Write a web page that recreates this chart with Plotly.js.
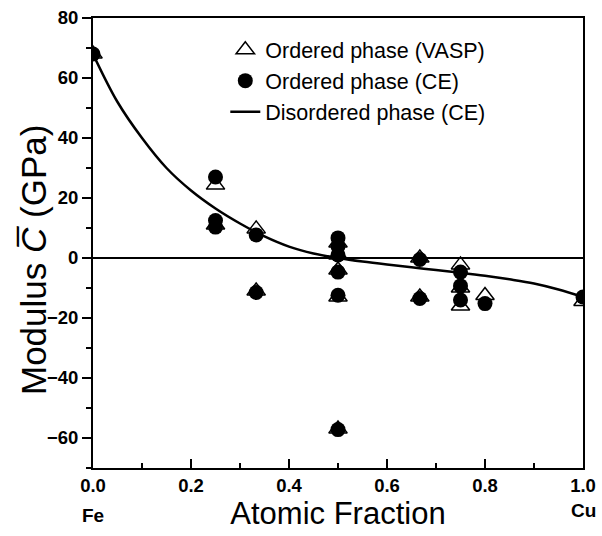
<!DOCTYPE html>
<html>
<head>
<meta charset="utf-8">
<script src="https://cdn.plot.ly/plotly-3.0.1.min.js"></script>
<style>html,body{margin:0;padding:0;background:#fff;}#chart{width:602px;height:536px;}</style>
</head>
<body>
<div id="chart"></div>
<script>
// Ordered phase (VASP)
const vaspX = [0.0, 0.25, 0.25, 0.333, 0.333, 0.5, 0.5, 0.5, 0.5, 0.5, 0.667, 0.667, 0.75, 0.75, 0.75, 0.8, 1.0];
const vaspY = [68, 24.3, 11, 9.7, -11, 5, 1, -4, -13, -57, 0, -13, -2.3, -10, -16, -12.5, -14.5];
// Ordered phase (CE)
const ceX = [0.0, 0.25, 0.25, 0.25, 0.333, 0.333, 0.5, 0.5, 0.5, 0.5, 0.5, 0.5, 0.667, 0.667, 0.75, 0.75, 0.75, 0.8, 1.0];
const ceY = [68, 27, 12.5, 10.3, 7.7, -11.5, 6.7, 3.8, 1, -4.7, -12.4, -57.2, -0.5, -13.5, -4.7, -9.3, -14, -15.2, -13];
// Disordered phase (CE) curve
const disX = [0.0, 0.05, 0.10, 0.15, 0.20, 0.25, 0.30, 0.35, 0.40, 0.45, 0.50, 0.55, 0.60, 0.65, 0.70, 0.75, 0.80, 0.85, 0.90, 0.95, 1.0];
const disY = [68, 52, 40, 30, 22.5, 16.5, 11.5, 7.2, 3.8, 1.5, 0, -1.2, -2.2, -3.1, -4.0, -4.9, -5.9, -7.1, -8.5, -10.5, -13];

const xTickVals = [0, 0.2, 0.4, 0.6, 0.8, 1.0];
const xTickText = ['0.0', '0.2', '0.4', '0.6', '0.8', '1.0'];
const yTickVals = [-60, -40, -20, 0, 20, 40, 60, 80];

const FONT = 'Liberation Sans, Arial, Helvetica, sans-serif';

const traces = [
  {x: vaspX, y: vaspY, type: 'scatter', mode: 'markers', name: 'Ordered phase (VASP)',
   marker: {symbol: 'triangle-up-open', size: 16, color: 'black', line: {width: 1.5, color: 'black'}}},
  {x: ceX, y: ceY, type: 'scatter', mode: 'markers', name: 'Ordered phase (CE)',
   marker: {symbol: 'circle', size: 15, color: 'black'}},
  {x: disX, y: disY, type: 'scatter', mode: 'lines', name: 'Disordered phase (CE)',
   line: {color: 'black', width: 2.5, shape: 'spline'}}
];

const layout = {
  width: 602, height: 536,
  margin: {l: 93, r: 19, t: 18, b: 68},
  paper_bgcolor: 'white', plot_bgcolor: 'white',
  font: {family: FONT, color: 'black'},
  showlegend: true,
  legend: {x: 0.27, y: 0.975, xanchor: 'left', yanchor: 'top', bgcolor: 'rgba(0,0,0,0)',
           font: {family: FONT, size: 21.5, color: 'black'}, itemwidth: 30},
  xaxis: {
    range: [0, 1.0], autorange: false,
    tickvals: xTickVals, ticktext: xTickText,
    ticks: 'inside', ticklen: 9, tickwidth: 2, tickcolor: 'black',
    minor: {dtick: 0.1, ticks: 'inside', ticklen: 5, tickwidth: 2, tickcolor: 'black'},
    showline: true, linewidth: 2, linecolor: 'black', mirror: true,
    showgrid: false, zeroline: false,
    tickfont: {family: FONT, size: 18.5, color: 'black', weight: 'bold'},
    title: {text: 'Atomic Fraction', font: {family: FONT, size: 31, color: 'black'}, standoff: 6}
  },
  yaxis: {
    range: [-70, 80], autorange: false,
    tickvals: yTickVals,
    ticks: 'outside', ticklen: 9, tickwidth: 2, tickcolor: 'black',
    minor: {dtick: 10, ticks: 'outside', ticklen: 5, tickwidth: 2, tickcolor: 'black'},
    showline: true, linewidth: 2, linecolor: 'black', mirror: true,
    showgrid: false, zeroline: true, zerolinewidth: 2, zerolinecolor: 'black',
    tickfont: {family: FONT, size: 18.5, color: 'black', weight: 'bold'}
  },
  annotations: [
    {text: 'Modulus <i>C\u0305</i> (GPa)', xref: 'paper', yref: 'paper', x: 0, y: 0.5, xshift: -60, yshift: -17,
     textangle: -90, xanchor: 'center', yanchor: 'middle', showarrow: false,
     font: {family: FONT, size: 35, color: 'black'}},
    {text: 'Fe', xref: 'paper', yref: 'paper', x: 0, y: 0, yshift: -47, xanchor: 'center', yanchor: 'middle',
     showarrow: false, font: {family: FONT, size: 19, color: 'black', weight: 'bold'}},
    {text: 'Cu', xref: 'paper', yref: 'paper', x: 1, y: 0, yshift: -42, xanchor: 'center', yanchor: 'middle',
     showarrow: false, font: {family: FONT, size: 19, color: 'black', weight: 'bold'}}
  ]
};

Plotly.newPlot('chart', traces, layout, {displayModeBar: false, staticPlot: true});
</script>
</body>
</html>
